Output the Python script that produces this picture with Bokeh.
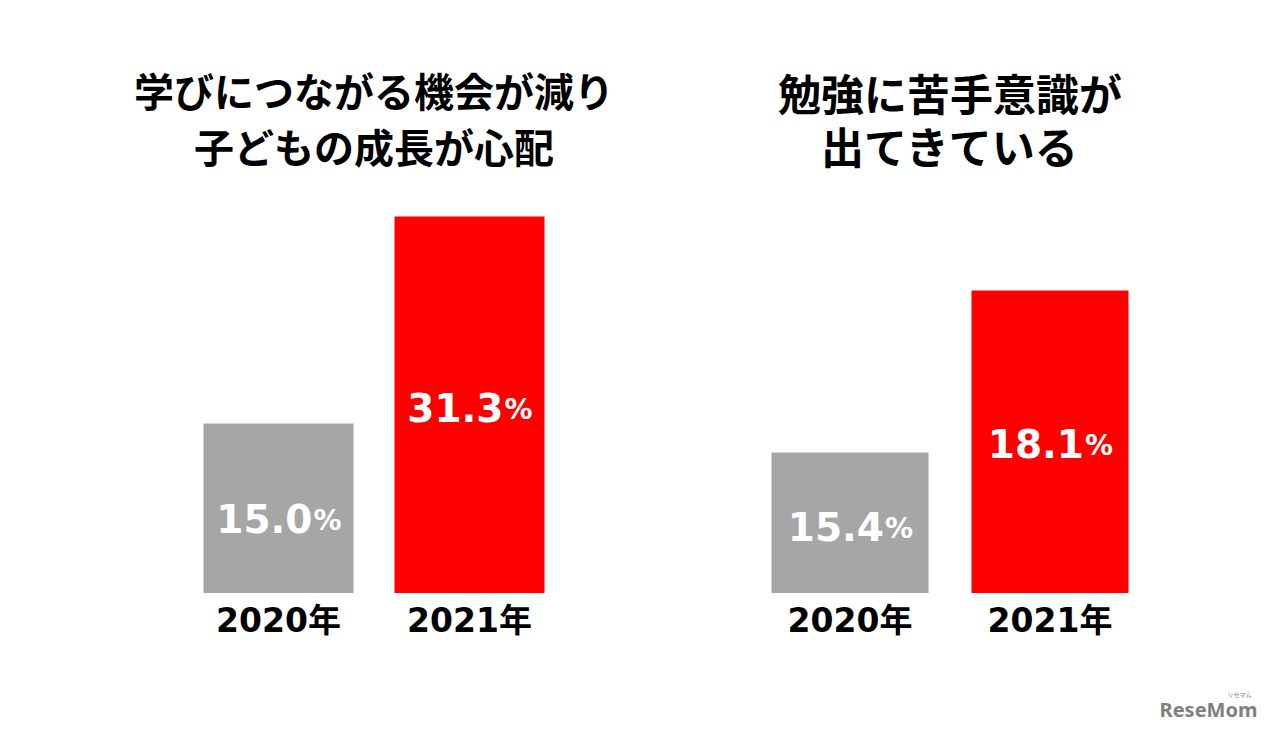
from bokeh.plotting import figure
from bokeh.models import Range1d
from bokeh.core.properties import value
from bokeh.embed import file_html
from bokeh.resources import INLINE

# ---------------- data ----------------
years = ["2020年", "2021年"]
left_title = ["学びにつながる機会が減り", "子どもの成長が心配"]
right_title = ["勉強に苦手意識が", "出てきている"]
left_values = [15.0, 31.3]
right_values = [15.4, 18.1]

# ---------------- layout / style ----------------
W, H = 1264, 725
BASE_PY = 592.5          # pixel of the bar baseline
COLORS = ["#A6A6A6", "#FF0000"]
LEFT_X = [278.0, 469.0]
RIGHT_X = [849.5, 1049.5]
LEFT_W = 150
RIGHT_W = 157
# each panel has its own (truncated) value axis: floor value at baseline, pixels per unit
LEFT_FLOOR, LEFT_PPU = 1.65, 12.70
RIGHT_FLOOR, RIGHT_PPU = 13.06, 60.0
LEFT_LABEL_DY = [10, 3]
RIGHT_LABEL_DY = [4, 2]

NUM_FONT = value("DejaVu Sans")
CJK_FONT = value("Noto Sans CJK JP")
MIX_FONT = value("DejaVu Sans, Noto Sans CJK JP")


def axis_range(floor, ppu):
    # frame spans pixel y 0 (top) .. H (bottom)
    start = floor - (H - BASE_PY) / ppu
    end = floor + BASE_PY / ppu
    return Range1d(start, end)


p = figure(width=W, height=H, x_range=Range1d(0, W), y_range=Range1d(H, 0),
           x_axis_type=None, y_axis_type=None, output_backend="svg",
           toolbar_location=None, min_border=0)
p.grid.visible = False
p.outline_line_color = None
p.background_fill_color = "white"
p.border_fill_color = "white"
p.extra_y_ranges = {"L": axis_range(LEFT_FLOOR, LEFT_PPU),
                    "R": axis_range(RIGHT_FLOOR, RIGHT_PPU)}

panels = [
    (LEFT_X, LEFT_W, left_values, LEFT_FLOOR, "L", LEFT_LABEL_DY, left_title, [89, 145], 40),
    (RIGHT_X, RIGHT_W, right_values, RIGHT_FLOOR, "R", RIGHT_LABEL_DY, right_title, [91, 144], 43),
]

for xs, bw, vals, floor, rname, dys, title, ty, tsize in panels:
    p.vbar(x=xs, width=bw, top=vals, bottom=floor, color=COLORS, line_color=None,
           y_range_name=rname)
    mids = [(v + floor) / 2 for v in vals]
    for x, m, v, dy in zip(xs, mids, vals, dys):
        p.text(x=[x], y=[m], text=[f"{v:.1f}"], text_font=NUM_FONT, text_font_style="bold",
               text_font_size="39px", text_color="white", text_align="right",
               text_baseline="middle", x_offset=34, y_offset=dy, y_range_name=rname)
        p.text(x=[x], y=[m], text=["%"], text_font=NUM_FONT, text_font_style="bold",
               text_font_size="28px", text_color="white", text_align="left",
               text_baseline="middle", x_offset=35, y_offset=dy + 2, y_range_name=rname)
    # category labels
    p.text(x=xs, y=[620, 620], text=years, text_font=MIX_FONT, text_font_style="bold",
           text_font_size="33px", text_color="black", text_align="center",
           text_baseline="middle")
    # panel titles
    cx = (xs[0] - bw / 2 + xs[1] + bw / 2) / 2
    p.text(x=[cx, cx], y=ty, text=title, text_font=CJK_FONT, text_font_style="bold",
           text_font_size=f"{tsize}px", text_color="black", text_align="center",
           text_baseline="middle")

# watermark
p.text(x=[1208], y=[709], text=["ReseMom"], text_font=value("Noto Sans"),
       text_font_style="bold", text_font_size="20px", text_color="#7F7F7F",
       text_align="center", text_baseline="middle")
p.text(x=[1239], y=[694], text=["リセマム"], text_font=CJK_FONT,
       text_font_size="6px", text_color="#7F7F7F", text_align="center",
       text_baseline="middle")

open("out.html", "w").write(file_html(p, INLINE))
